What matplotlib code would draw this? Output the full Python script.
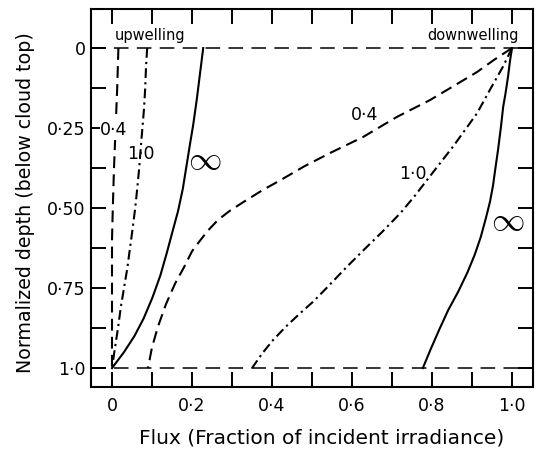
import matplotlib
matplotlib.use("Agg")
import matplotlib.pyplot as plt

plt.rcParams['font.family'] = ['DejaVu Sans']
plt.rcParams['lines.scale_dashes'] = False

# ---- data (flux = fraction of incident irradiance, depth = normalized depth) ----
up_04_flux = [0.016, 0.013, 0.009, 0.005, 0.002, 0.0, 0.0]
up_04_depth = [0.0, 0.125, 0.25, 0.375, 0.5, 0.6, 1.0]

up_10_flux = [0.088, 0.085, 0.083, 0.080, 0.076, 0.072, 0.068, 0.063, 0.058, 0.052,
              0.045, 0.038, 0.030, 0.022, 0.015, 0.007, 0.0]
up_10_depth = [0.0, 0.06, 0.125, 0.19, 0.25, 0.31, 0.375, 0.44, 0.5, 0.56,
               0.625, 0.69, 0.75, 0.81, 0.875, 0.94, 1.0]

up_inf_flux = [0.228, 0.22, 0.212, 0.203, 0.195, 0.186, 0.177, 0.165, 0.152, 0.137,
               0.121, 0.101, 0.079, 0.056, 0.03, 0.0]
up_inf_depth = [0.0, 0.08, 0.16, 0.24, 0.30, 0.37, 0.44, 0.51, 0.57, 0.64,
                0.71, 0.78, 0.845, 0.90, 0.95, 1.0]

down_04_flux = [1.0, 0.955, 0.9125, 0.855, 0.795, 0.7125, 0.6275, 0.545, 0.48, 0.425,
                0.375, 0.33, 0.295, 0.265, 0.24, 0.218, 0.2, 0.18, 0.158, 0.135,
                0.115, 0.10, 0.09]
down_04_depth = [0.0, 0.037, 0.075, 0.118, 0.1625, 0.215, 0.278, 0.328, 0.37, 0.41,
                 0.445, 0.48, 0.508, 0.537, 0.57, 0.605, 0.635, 0.685, 0.735, 0.80,
                 0.87, 0.935, 1.0]

down_10_flux = [1.0, 0.9775, 0.945, 0.9125, 0.8825, 0.8525, 0.82, 0.7875, 0.755, 0.72,
                0.675, 0.63, 0.5875, 0.54, 0.505, 0.47, 0.435, 0.4025, 0.375, 0.35]
down_10_depth = [0.0, 0.058, 0.13, 0.204, 0.256, 0.308, 0.36, 0.4125, 0.465, 0.517,
                 0.575, 0.63, 0.683, 0.745, 0.79, 0.829, 0.87, 0.9125, 0.955, 1.0]

down_inf_flux = [1.0, 0.995, 0.99, 0.984, 0.978, 0.972, 0.965, 0.958, 0.9525, 0.945,
                 0.935, 0.922, 0.907, 0.889, 0.866, 0.84, 0.818, 0.797, 0.777]
down_inf_depth = [0.0, 0.04, 0.09, 0.14, 0.183, 0.25, 0.319, 0.38, 0.43, 0.48,
                  0.53, 0.59, 0.645, 0.70, 0.76, 0.82, 0.88, 0.94, 1.0]

x_ticks = [0.0, 0.1, 0.2, 0.3, 0.4, 0.5, 0.6, 0.7, 0.8, 0.9, 1.0]
x_tick_labels = ['0', '', '0·2', '', '0·4', '', '0·6', '', '0·8', '', '1·0']
y_ticks = [0.0, 0.125, 0.25, 0.375, 0.5, 0.625, 0.75, 0.875, 1.0]
y_tick_labels = ['0', '', '0·25', '', '0·50', '', '0·75', '', '1·0']

# ---- figure ----
fig = plt.figure(figsize=(5.37, 4.55), dpi=100)
ax = fig.add_axes([91/537, 1 - 387/455, (533 - 91)/537, (387 - 9)/455])

DASH = (0, (8.5, 4.5))
DASHDOT = (0, (7.0, 3.0, 1.6, 3.0))
lw = 1.5

# reference boundaries
ax.axhline(0.0, color='black', lw=1.1, linestyle=(0, (10.5, 6.0)))
ax.axhline(1.0, color='black', lw=1.1, linestyle=(0, (10.5, 6.0)))

ax.plot(up_04_flux, up_04_depth, color='black', lw=lw, linestyle=DASH)
ax.plot(up_10_flux, up_10_depth, color='black', lw=lw, linestyle=DASHDOT)
ax.plot(up_inf_flux, up_inf_depth, color='black', lw=lw, linestyle='-')
ax.plot(down_04_flux, down_04_depth, color='black', lw=lw, linestyle=DASH)
ax.plot(down_10_flux, down_10_depth, color='black', lw=lw, linestyle=DASHDOT)
ax.plot(down_inf_flux, down_inf_depth, color='black', lw=lw, linestyle='-')

# curve labels
lab_kw = dict(fontsize=12.5, ha='center', va='center')
inf_kw = dict(fontsize=24, ha='center', va='center', math_fontfamily='cm')
ax.text(0.005, 0.256, '0·4', bbox=dict(facecolor='white', edgecolor='none', pad=0.5), **lab_kw)
ax.text(0.0725, 0.33, '1·0', **lab_kw)
ax.text(0.2325, 0.347, r'$\infty$', **inf_kw)
ax.text(0.6325, 0.21, '0·4', **lab_kw)
ax.text(0.7525, 0.394, '1·0', **lab_kw)
ax.text(0.99, 0.54, r'$\infty$', **inf_kw)

ax.text(0.0075, -0.025, 'upwelling', fontsize=10.5, ha='left', va='baseline')
ax.text(1.0175, -0.025, 'downwelling', fontsize=10.5, ha='right', va='baseline')

ax.set_xlim(-0.0525, 1.0525)
ax.set_ylim(1.059, -0.122)

ax.set_xticks(x_ticks)
ax.set_xticklabels(x_tick_labels, fontsize=12.5)
ax.set_yticks(y_ticks)
ax.set_yticklabels(y_tick_labels, fontsize=12.5)

ax.tick_params(axis='both', direction='in', length=10.8, width=1.4,
               top=True, right=True)
ax.tick_params(axis='x', pad=7)
ax.tick_params(axis='y', pad=4)

for s in ax.spines.values():
    s.set_linewidth(1.5)

ax.set_xlabel('Flux (Fraction of incident irradiance)', fontsize=14.5)
ax.set_ylabel('Normalized depth (below cloud top)', fontsize=13.7)
ax.xaxis.set_label_coords((322 - 91) / (533 - 91), -(428 - 387) / (387 - 9))
ax.yaxis.set_label_coords(-(91 - 35) / (533 - 91), (387 - 203) / (387 - 9))

fig.savefig('out.png', dpi=100)
